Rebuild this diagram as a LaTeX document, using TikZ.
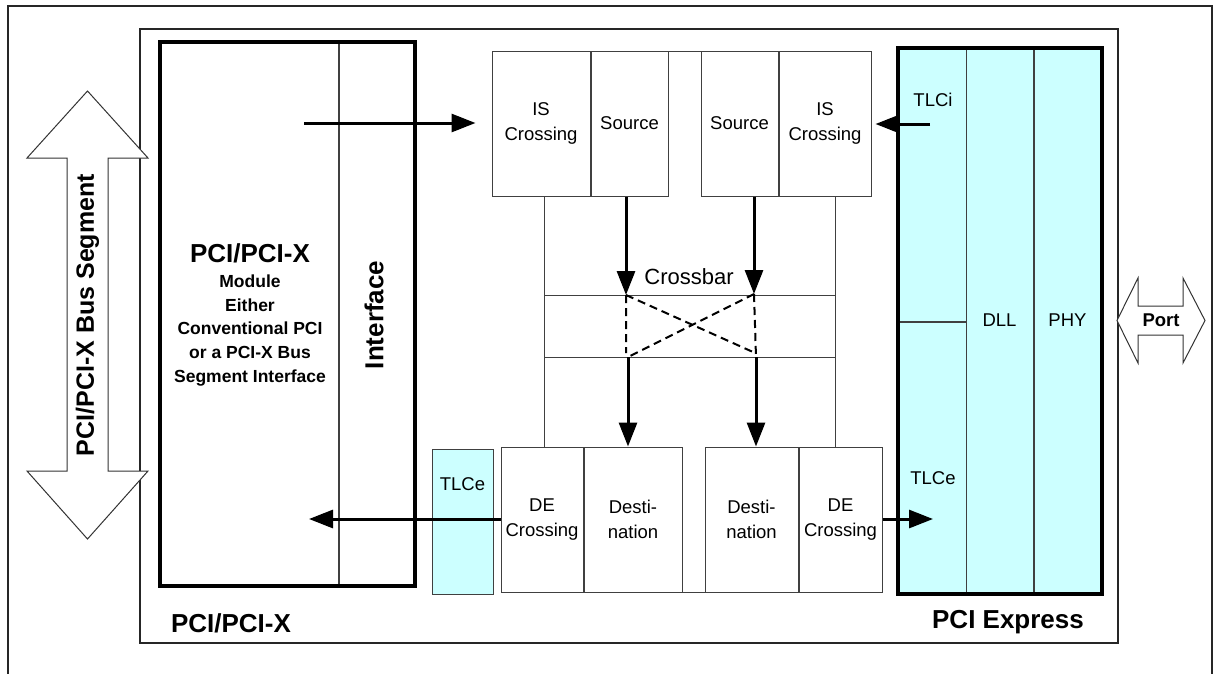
\documentclass[tikz,border=0pt]{standalone}
\usepackage{fontspec}
\setmainfont{Liberation Sans}
\usepackage{xcolor}
\usetikzlibrary{arrows.meta,calc,positioning}
\definecolor{filltlc}{HTML}{CCFFFF}
\definecolor{linegray}{HTML}{404040}
\tikzset{
  frame/.style={draw=black!85, line width=1.6pt},
  cell/.style={draw=linegray, line width=1pt, fill=white, inner sep=0pt,
    align=center, font=\fontsize{18.5}{24.5}\selectfont},
  tlc/.style={cell, fill=filltlc},
  heavy/.style={draw=black, line width=4pt},
  arr/.style={-{Triangle[length=24pt,width=18pt]}, line width=3pt, draw=black},
  xdash/.style={draw=black, line width=2pt, dash pattern=on 8pt off 5pt},
  fatarrow/.style={draw=black!80, line width=1pt, fill=white},
  txt/.style={font=\fontsize{18.5}{22}\selectfont, inner sep=0pt},
  bigtxt/.style={font=\bfseries\fontsize{26}{30}\selectfont, inner sep=0pt},
  desctxt/.style={font=\bfseries\fontsize{17.5}{23.75}\selectfont, align=center, inner sep=0pt},
}

\begin{document}
\begin{tikzpicture}[x=1pt, y=-1pt]
\useasboundingbox (0,0) rectangle (1213,673);

%% frames
\draw[frame] (8,690) -- (8,6) -- (1212,6) -- (1212,690);
\draw[frame] (140,29) rectangle (1118,643);

%% PCI/PCI-X bus segment arrow
\draw[fatarrow] (87.5,91) -- (148,158) -- (108,158) -- (108,471) -- (148,471)
  -- (87.5,539) -- (27,471) -- (67,471) -- (67,158) -- (27,158) -- cycle;
\node[bigtxt, font=\bfseries\fontsize{25}{30}\selectfont, rotate=90] (bus) at (87.5,315) {PCI/PCI-X Bus Segment};

%% PCI/PCI-X module
\node[cell, minimum width=178pt, minimum height=543pt] (modl) at (249,313.5) {};
\node[cell, minimum width=75pt, minimum height=543pt, right=0pt of modl] (intf) {};
\draw[heavy] (modl.north west) rectangle (intf.south east);
\node[bigtxt] (modtitle) at (250,253) {PCI/PCI-X};
\node[desctxt] (moddesc) at (250,330.5) {Module\\Either\\Conventional PCI\\or a PCI-X Bus\\Segment Interface};
\node[bigtxt, rotate=90] (intftxt) at (374,315) {Interface};
\node[bigtxt] (pcilbl) at (231,623) {PCI/PCI-X};

%% crossbar
\node[cell, fill=none, minimum width=291pt, minimum height=541pt] (xbar) at (689.5,321.5) {};
\node[cell, fill=none, minimum width=291pt, minimum height=62pt] (band) at (689.5,326) {};
\node[txt, font=\fontsize{22}{26}\selectfont] (xbartxt) at (689,277) {Crossbar};

%% ingress side
\node[cell, minimum width=98pt, minimum height=145pt] (isl) at (541,123.5) {IS\\Crossing};
\node[cell, minimum width=77pt, minimum height=145pt, right=0pt of isl] (srcl) {Source};
\node[cell, minimum width=77pt, minimum height=145pt] (srcr) at (739.5,123.5) {Source};
\node[cell, minimum width=92pt, minimum height=145pt, right=0pt of srcr] (isr) {IS\\Crossing};

%% egress side
\node[tlc, minimum width=61pt, minimum height=145pt] (tlcx) at (462.5,521.5) {};
\node[txt] (tlcxtxt) at (462.5,484) {TLCe};
\node[cell, minimum width=82pt, minimum height=145pt] (decl) at (542,519.5) {DE\\Crossing};
\node[cell, minimum width=98pt, minimum height=145pt, right=0pt of decl] (desl) {Desti-\\nation};
\node[cell, minimum width=93pt, minimum height=145pt] (desr) at (751.5,519.5) {Desti-\\nation};
\node[cell, minimum width=83pt, minimum height=145pt, right=0pt of desr] (decr) {DE\\Crossing};

%% PCI Express stack
\node[tlc, minimum width=68pt, minimum height=273pt] (tlci) at (932,184.5) {};
\node[tlc, minimum width=68pt, minimum height=272pt, below=0pt of tlci] (tlce) {};
\node[tlc, minimum width=67pt, minimum height=545pt] (dll) at (999.5,320.5) {DLL};
\node[tlc, minimum width=67pt, minimum height=545pt, right=0pt of dll] (phy) {PHY};
\draw[heavy] (tlci.north west) rectangle (phy.south east);
\node[txt] (tlcitxt) at (933,100) {TLCi};
\node[txt] (tlcetxt) at (933,478) {TLCe};
\node[bigtxt] (pcielbl) at (1008,622) {PCI Express};

%% port arrow
\draw[fatarrow] (1117,320.5) -- (1138,278) -- (1138,306) -- (1183,306) -- (1183,278)
  -- (1205,320.5) -- (1183,363) -- (1183,335) -- (1138,335) -- (1138,363) -- cycle;
\node[txt, font=\bfseries\fontsize{18.5}{22}\selectfont] (port) at (1161,320.5) {Port};

%% crossbar paths
\coordinate (xa) at (626,295);
\coordinate (xb) at (754,294);
\coordinate (xc) at (628,357);
\coordinate (xd) at (756,357);
\draw[xdash] (xa) -- (626,353) (xa) -- (753,352);
\draw[xdash] (xb) -- (xd) (xb) -- (xc);
\draw[arr] (srcl.south -| xa) -- (xa);
\draw[arr] (srcr.south -| xb) -- (xb);
\draw[arr] (xc) -- (xc |- desl.north);
\draw[arr] (xd) -- (xd |- desr.north);

%% data flow
\coordinate (inA) at (304,123);
\coordinate (inB) at (930,124);
\coordinate (outA) at (309,519);
\coordinate (outB) at (933,519);
\draw[arr, shorten >=16pt] (inA) -- (inA -| isl.west);
\draw[arr, shorten >=4pt] (inB) -- (inB -| isr.east);
\draw[arr] (decl.west |- outA) -- (outA);
\draw[arr] (decr.east |- outB) -- (outB);

\end{tikzpicture}
\end{document}
